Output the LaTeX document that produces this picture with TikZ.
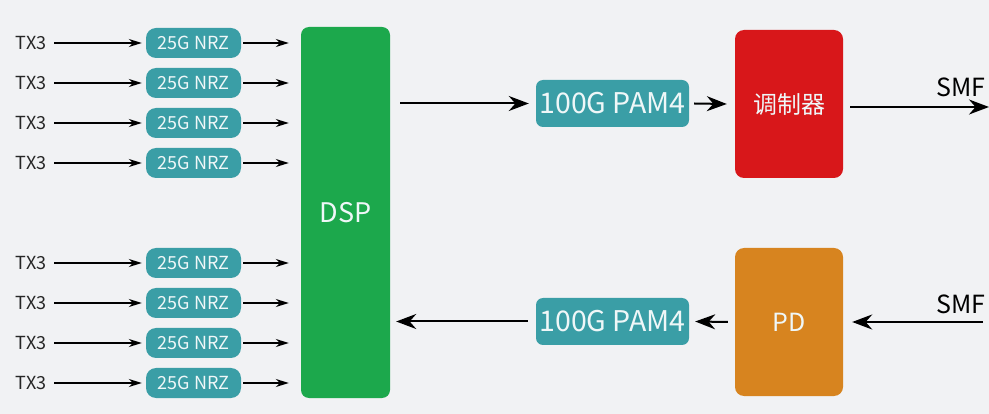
\documentclass[tikz,border=0pt]{standalone}
\usepackage{fontspec}
\setmainfont{Noto Sans CJK SC}
\usetikzlibrary{arrows.meta}
\definecolor{bg}{HTML}{F1F2F4}
\definecolor{teal}{HTML}{3A9EA6}
\definecolor{dspg}{HTML}{1CA84C}
\definecolor{modr}{HTML}{D8171A}
\definecolor{pdo}{HTML}{D7841F}
\begin{document}
\begin{tikzpicture}[x=1pt,y=-1pt,
  nrz/.style={fill=teal,rounded corners=10pt,minimum width=95pt,minimum height=30pt,text=white!92!teal,font=\fontsize{18}{20}\selectfont,inner sep=0pt},
  pam/.style={fill=teal,rounded corners=7pt,minimum width=153pt,minimum height=47pt,text=white!92!teal,font=\fontsize{28.5}{31}\selectfont,inner sep=0pt},
  big/.style={rounded corners=9pt,minimum width=108pt,minimum height=148pt,text=white!92!teal,inner sep=0pt},
  lbl/.style={font=\fontsize{18}{20}\selectfont,text=black!85},
  arr/.style={-{Stealth[length=20pt,width=15pt]},line width=2pt},
  arrs/.style={-{Stealth[length=13pt,width=8pt]},line width=1.6pt}]
\fill[bg] (0,0) rectangle (989,414);
\useasboundingbox (0,0) rectangle (989,414);
\node[fill=dspg,rounded corners=8pt,minimum width=89pt,minimum height=371pt,inner sep=0pt,text=white!92!teal,font=\fontsize{27}{30}\selectfont] (dsp) at (345.5,212.5) {DSP};
\foreach \i/\y in {1/43,2/83,3/123,4/163,5/263,6/303,7/343,8/383}{
  \node[lbl] (tx\i) at (31,\y) {TX3};
  \node[nrz] (n\i) at (193.5,\y) {25G NRZ};
  \coordinate (d\i) at (dsp.west |- n\i);
  \draw[arrs] (54,\y) -- ([xshift=-4pt]n\i.west);
  \draw[arrs] ([xshift=2pt]n\i.east) -- ([xshift=-12pt]d\i);
}
\node[pam] (p1) at (612.5,103.5) {100G PAM4};
\node[pam] (p2) at (612.5,321.5) {100G PAM4};
\node[big,fill=modr,font=\fontsize{24}{28}\selectfont] (mod) at (789,104) {调制器};
\node[big,fill=pdo,font=\fontsize{25}{28}\selectfont] (pd) at (789,322) {PD};
\coordinate (o1) at (989,107);
\coordinate (i2) at (983,322);
\draw[arr] ([xshift=10pt]dsp.east |- p1) -- ([xshift=-7pt]p1.west);
\draw[arr] ([xshift=5pt]p1.east) -- ([xshift=-8pt]mod.west);
\draw[arr] ([xshift=7pt]mod.east |- o1) -- (o1);
\node[font=\fontsize{25}{27}\selectfont,anchor=south] (smf1) at (961,100) {SMF};
\draw[arr] (i2) -- ([xshift=9pt]pd.east |- i2);
\node[font=\fontsize{25}{27}\selectfont,anchor=south] (smf2) at (961,317) {SMF};
\draw[arr] ([xshift=-7pt]pd.west) -- ([xshift=6pt]p2.east);
\draw[arr] ([xshift=-8pt]p2.west) -- ([xshift=6pt]dsp.east |- p2);
\end{tikzpicture}
\end{document}
